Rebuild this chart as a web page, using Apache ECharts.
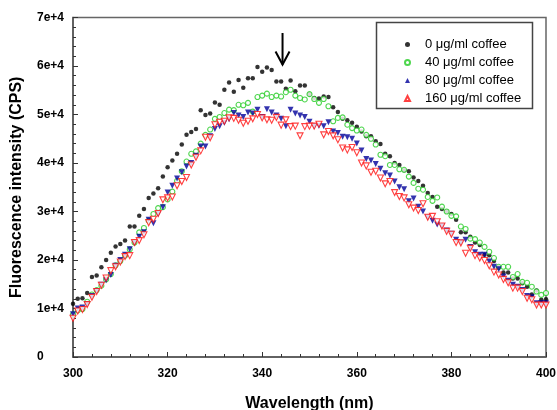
<!DOCTYPE html>
<html><head><meta charset="utf-8">
<script src="https://cdn.jsdelivr.net/npm/echarts@6/dist/echarts.min.js"></script>
<style>html,body{margin:0;padding:0;background:#fff}#c{width:557px;height:410px}</style>
</head><body><div id="c"></div>
<script>
const wavelengths = [300,301,302,303,304,305,306,307,308,309,310,311,312,313,314,315,316,317,318,319,320,321,322,323,324,325,326,327,328,329,330,331,332,333,334,335,336,337,338,339,340,341,342,343,344,345,346,347,348,349,350,351,352,353,354,355,356,357,358,359,360,361,362,363,364,365,366,367,368,369,370,371,372,373,374,375,376,377,378,379,380,381,382,383,384,385,386,387,388,389,390,391,392,393,394,395,396,397,398,399,400];
const seriesNames = ['0 \u03bcg/ml coffee','40 \u03bcg/ml coffee','80 \u03bcg/ml coffee','160 \u03bcg/ml coffee'];
const coffee0 = [11000,12000,12100,13200,16500,16800,18500,20000,21500,22800,23300,24000,26900,26900,29100,30500,32800,33700,34800,37200,39100,40500,41900,43800,45800,46400,47000,50900,49900,50200,52500,52000,55100,56600,54700,57100,55500,57500,57500,59800,58800,59700,59200,56800,56800,55300,57000,54800,56000,56000,54200,53400,53300,53700,53600,51500,50500,49100,48800,48300,47500,46500,45500,45500,44500,43900,41900,41400,40000,39600,38500,38300,37000,36300,35300,33800,33000,31000,30500,30000,29500,28300,25700,25700,24800,23600,23100,21100,21000,19800,18500,17400,17400,16200,16200,15200,14500,12900,13700,11800,11900];
const coffee40 = [8800,9600,9900,11400,12900,13800,14700,16000,17100,18900,19800,20900,22200,23600,25700,26600,28100,29500,30700,30900,32500,34100,36300,38300,40300,41900,42400,44000,45800,46900,49100,49500,50300,51000,50900,52000,51900,52400,50600,53600,53900,54300,53600,53900,53700,54600,55100,53900,53400,53100,54200,53200,52400,53200,51700,48600,49300,49400,47900,47200,46700,46900,45800,45000,43800,41700,41400,39600,39600,38700,38600,37200,35900,34700,34500,33000,32200,32900,31000,30000,29100,29000,26900,26400,24400,24300,23600,22700,21700,20400,18600,18600,18600,16500,17100,15500,15300,14500,13500,12800,13200];
const coffee80 = [8800,10000,10200,10900,12600,13600,14900,15800,16900,18800,20000,21100,22200,23500,24800,25700,28300,27600,29500,30900,33900,35300,36800,38100,39300,40000,41500,43400,43400,45500,47000,47600,48300,49000,50300,49800,49500,50400,50200,51000,49500,51100,50400,49800,49100,47600,51000,50200,49800,49500,48500,47600,47700,47600,48400,46500,46200,45400,45300,45000,44000,42600,40800,40500,39800,38800,37900,37400,36200,35000,34600,32100,32700,31000,30000,28800,28100,27300,27000,26100,25400,24200,23600,24200,22700,21600,21100,21100,19700,18600,18100,16600,15700,14900,14500,13800,12600,12300,11100,11100,11100];
const coffee160 = [8000,9500,9800,10800,12300,13500,14800,16300,17800,18600,19600,20700,20900,23600,24000,25200,27700,28400,29600,32400,32800,33000,35300,36200,37000,39600,41200,42500,45300,45200,47900,48400,48600,49300,49200,48800,48200,48600,49100,50000,49300,48900,48800,49400,47800,48900,47500,47600,45600,47500,47600,47600,48000,45800,46500,45600,44800,43100,42700,43200,42100,40000,39400,38100,38300,36900,35700,36200,33900,33100,32800,31400,30700,30200,31600,28800,29000,27900,27000,25900,25300,23600,23500,21400,22400,20900,20400,19900,18800,17500,16900,16000,15300,14200,14200,13500,12100,11800,10700,10700,10700];
const yTickLabels = ['0','1e+4','2e+4','3e+4','4e+4','5e+4','6e+4','7e+4'];
const xTickLabels = ['300','320','340','360','380','400'];
const arrowX = 344.3, arrowTop = 66800, arrowTip = 60300;

const FONT = '"Liberation Sans", Arial, sans-serif';
function pairs(arr){ return wavelengths.map((w,i)=>[w, arr[i]]); }

const chart = echarts.init(document.getElementById('c'), null, {renderer:'canvas'});
const option = {
  animation:false,
  backgroundColor:'#fff',
  textStyle:{fontFamily:FONT},
  grid:{left:73, right:11, top:17.5, bottom:53, show:true, borderColor:'#666', borderWidth:1.5,
        backgroundColor:'transparent', containLabel:false, outerBoundsMode:'none'},
  xAxis:{
    type:'value', min:300, max:400, interval:20,
    splitLine:{show:false},
    axisLine:{show:true, onZero:false, lineStyle:{color:'#555', width:1.5}},
    axisTick:{show:true, inside:true, length:5, lineStyle:{color:'#333'}},
    minorTick:{show:true, splitNumber:5, length:3, lineStyle:{color:'#333'}},
    axisLabel:{color:'#000', fontWeight:'bold', fontSize:12, fontFamily:FONT, margin:11,
      formatter:(v)=>xTickLabels[Math.round((v-300)/20)]},
    name:'Wavelength (nm)', nameLocation:'middle', nameGap:39,
    nameTextStyle:{color:'#000', fontWeight:'bold', fontSize:16, fontFamily:FONT}
  },
  yAxis:{
    type:'value', min:0, max:70000, interval:10000,
    splitLine:{show:false},
    axisLine:{show:true, onZero:false, lineStyle:{color:'#555', width:1.5}},
    axisTick:{show:true, inside:true, length:5, lineStyle:{color:'#333'}},
    minorTick:{show:true, splitNumber:5, length:3, lineStyle:{color:'#333'}},
    axisLabel:{color:'#000', fontWeight:'bold', fontSize:12, fontFamily:FONT, margin:36, align:'left',
      formatter:(v)=>yTickLabels[Math.round(v/10000)]},
    name:'Fluorescence intensity (CPS)', nameLocation:'middle', nameGap:48,
    nameTextStyle:{color:'#000', fontWeight:'bold', fontSize:16, fontFamily:FONT}
  },
  legend:{
    orient:'vertical', left:399, top:33, itemWidth:5, itemHeight:5, itemGap:5,
    data:seriesNames,
    textStyle:{color:'#000', fontSize:13, fontFamily:FONT, padding:[0,0,0,10]}
  },
  series:[
    {name:seriesNames[0], type:'scatter', data:pairs(coffee0), symbol:'circle', symbolSize:4.5,
     itemStyle:{color:'#000'}},
    {name:seriesNames[1], type:'scatter', data:pairs(coffee40), symbol:'circle', symbolSize:5,
     itemStyle:{color:'#fff', borderColor:'#22cc22', borderWidth:1.1}},
    {name:seriesNames[2], type:'scatter', data:pairs(coffee80), symbol:'triangle', symbolRotate:180, symbolSize:6,
     itemStyle:{color:'#00009a'}},
    {name:seriesNames[3], type:'scatter', data:pairs(coffee160), symbol:'triangle', symbolRotate:180, symbolSize:6,
     itemStyle:{color:'#fff', borderColor:'#ff1010', borderWidth:1.1}}
  ]
};
chart.setOption(option);
const arrowStart = chart.convertToPixel({gridIndex:0}, [arrowX, arrowTop]);
const arrowEnd = chart.convertToPixel({gridIndex:0}, [arrowX, arrowTip]);
chart.setOption({graphic:[
  {type:'rect', shape:{x:376.5, y:22.5, width:156, height:86}, style:{fill:'#fff', stroke:'#444', lineWidth:1.5}},
  {type:'line', shape:{x1:arrowStart[0], y1:arrowStart[1], x2:arrowEnd[0], y2:arrowEnd[1]}, style:{stroke:'#000', lineWidth:2}},
  {type:'polyline', shape:{points:[[arrowEnd[0]-7, arrowEnd[1]-13],[arrowEnd[0], arrowEnd[1]],[arrowEnd[0]+7, arrowEnd[1]-13]]}, style:{stroke:'#000', lineWidth:2, fill:null}}
]});
</script></body></html>
